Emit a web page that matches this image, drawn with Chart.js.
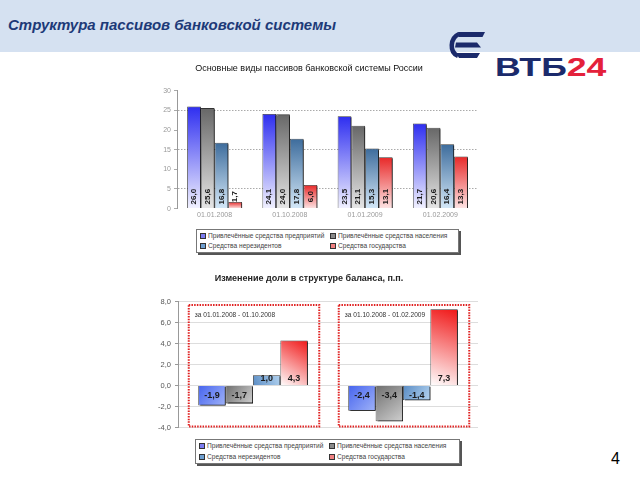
<!DOCTYPE html>
<html>
<head>
<meta charset="utf-8">
<script src="https://cdn.jsdelivr.net/npm/chart.js@4/dist/chart.umd.min.js"></script>
<style>
  body { margin: 0; width: 640px; height: 480px; position: relative; overflow: hidden; background: #fff;
         font-family: 'Liberation Sans', Arial, sans-serif; }
  .abs { position: absolute; }
  .legend { position: absolute; border: 1px solid #777; background: #fff; box-shadow: 2px 2px 0 #555;
            font-size: 6.6px; color: #444; }
  .legend span.item { position: absolute; white-space: nowrap; }
  .legend i { display: inline-block; width: 4px; height: 4px; border: 1px solid #333; margin-right: 2px; vertical-align: -1px; }
</style>
</head>
<body>
<div class="abs" style="left:0;top:0;width:640px;height:52px;background:#d5e1f1"></div>
<div class="abs" style="left:8px;top:16px;font:italic bold 15px 'Liberation Sans';color:#1d3a78">Структура пассивов банковской системы</div>

<svg class="abs" style="left:447px;top:31px" width="40" height="30" viewBox="0 0 40 30">
  <path d="M11 1 H38 L35.5 6 H12 Z M9 11.5 H30 L34 16.5 H8 Z M9 22 H33 L30 27 H12 Z" fill="#1b2a6b"/>
  <path d="M12 3 C3 7 2 21 11 25" stroke="#1b2a6b" stroke-width="4.5" fill="none"/>
</svg>
<div class="abs" style="left:495px;top:52px;font:bold 26px 'Liberation Sans';transform:scaleX(1.37);transform-origin:0 0;white-space:nowrap">
  <span style="color:#1b2a6b">ВТБ</span><span style="color:#e4213b">24</span>
</div>

<canvas id="c1" class="abs" style="left:140px;top:58px" width="345" height="168"></canvas>
<div id="leg1" class="legend" style="left:196px;top:229px;width:261px;height:22px"></div>

<canvas id="c2" class="abs" style="left:140px;top:268px" width="345" height="168"></canvas>
<div id="leg2" class="legend" style="left:195px;top:439px;width:263px;height:23px"></div>

<div class="abs" style="left:611px;top:450px;font:16px 'Liberation Sans';color:#000">4</div>

<script>
const FONT = "'Liberation Sans', Arial, sans-serif";

// data
const dates = ['01.01.2008', '01.10.2008', '01.01.2009', '01.02.2009'];
const seriesNames = [
  'Привлечённые средства предприятий',
  'Привлечённые средства населения',
  'Средства нерезидентов',
  'Средства государства'
];
const enterprises = [26.0, 24.1, 23.5, 21.7];
const households = [25.6, 24.0, 21.1, 20.6];
const nonresidents = [16.8, 17.8, 15.3, 16.4];
const government = [1.7, 6.0, 13.1, 13.3];
const topTicks = [0, 5, 10, 15, 20, 25, 30];

const periods = ['за 01.01.2008 - 01.10.2008', 'за 01.10.2008 - 01.02.2009'];
const chEnterprises = [-1.9, -2.4];
const chHouseholds = [-1.7, -3.4];
const chNonresidents = [1.0, -1.4];
const chGovernment = [4.3, 7.3];
const bottomTicks = [-4, -2, 0, 2, 4, 6, 8];

// colours
const topColors = [['#2e2ef0', '#f2f2ff'], ['#676767', '#e6e6e6'], ['#3d6c9c', '#d4e8f8'], ['#e82828', '#fde4e4']];
const bottomColors = [['#4664ee', '#9fb2f8'], ['#6e6e6e', '#cfcfcf'], ['#5a8cc4', '#b3d3f0'], ['#ffffff', '#f01616']];
const legendMarks = ['#7c7cf0', '#8a8a8a', '#6f9fd0', '#f08080'];

const fmt = v => v.toFixed(1).replace('.', ',');

function vGrad(top, bottom) {
  return ctx => {
    const ch = ctx.chart, y = ch.scales.y;
    if (!y || ctx.raw == null) return top;
    const y0 = y.getPixelForValue(0), y1 = y.getPixelForValue(ctx.raw);
    if (!isFinite(y0) || !isFinite(y1) || y0 === y1) return top;
    const g = ch.ctx.createLinearGradient(0, y0, 0, y1);
    g.addColorStop(0, bottom);
    g.addColorStop(1, top);
    return g;
  };
}

function dGrad(c0, c1) {
  return ctx => {
    const ch = ctx.chart, x = ch.scales.x, y = ch.scales.y;
    if (!x || !y || ctx.raw == null) return c1;
    const cat = x.width / ch.data.labels.length;
    const bw = cat * 0.73 / 4;
    const left = x.getPixelForValue(ctx.dataIndex) - 2 * bw + ctx.datasetIndex * bw;
    const y0 = y.getPixelForValue(0), y1 = y.getPixelForValue(ctx.raw);
    if (![left, y0, y1].every(isFinite)) return c1;
    const g = ch.ctx.createLinearGradient(left, y0, left + bw, y1);
    g.addColorStop(0, c0);
    g.addColorStop(1, c1);
    return g;
  };
}

const shadow = {
  id: 'shadow',
  beforeDatasetsDraw(chart) {
    const c = chart.ctx;
    c.save();
    c.shadowColor = 'rgba(0,0,0,0.85)';
    c.shadowOffsetX = 2;
    c.shadowOffsetY = 1;
    c.shadowBlur = 0;
  },
  afterDatasetsDraw(chart) { chart.ctx.restore(); }
};

const valueLabels = {
  id: 'valueLabels',
  afterDatasetsDraw(chart, args, opts) {
    const c = chart.ctx;
    const zero = chart.scales.y.getPixelForValue(0);
    c.save();
    c.fillStyle = '#1a1a1a';
    c.font = 'bold ' + opts.size + 'px ' + FONT;
    c.textAlign = 'center';
    c.textBaseline = 'middle';
    chart.data.datasets.forEach((ds, di) => {
      chart.getDatasetMeta(di).data.forEach((bar, i) => {
        const v = ds.data[i];
        if (opts.rotate) {
          c.save();
          c.translate(bar.x, zero - 12);
          c.rotate(-Math.PI / 2);
          c.fillText(fmt(v), 0, 0);
          c.restore();
        } else {
          c.fillText(fmt(v), bar.x, v >= 0 ? zero - 7 : zero + 10);
        }
      });
    });
    c.restore();
  }
};

const periodBoxes = {
  id: 'periodBoxes',
  beforeDatasetsDraw(chart) {
    const c = chart.ctx, x = chart.scales.x, y = chart.scales.y;
    const cat = x.width / chart.data.labels.length;
    c.save();
    chart.data.labels.forEach((lab, i) => {
      const cx = x.getPixelForValue(i) + 1;
      const l = cx - cat * 0.435, r = cx + cat * 0.435;
      const t = y.getPixelForValue(7.7), b = y.getPixelForValue(-3.9);
      c.strokeStyle = '#e02020';
      c.lineWidth = 2;
      c.setLineDash([1.5, 1.2]);
      c.strokeRect(l, t, r - l, b - t);
      c.setLineDash([]);
      c.fillStyle = '#333';
      c.font = '6.6px ' + FONT;
      c.textBaseline = 'middle';
      c.fillText(lab, l + 6, t + 10);
    });
    c.restore();
  }
};

function series(values, i, grad) {
  return {
    label: seriesNames[i],
    data: values,
    backgroundColor: grad,
    borderColor: '#333',
    borderWidth: 0.8,
    categoryPercentage: 0.73,
    barPercentage: 1
  };
}

new Chart(document.getElementById('c1'), {
  type: 'bar',
  data: {
    labels: dates,
    datasets: [enterprises, households, nonresidents, government].map((d, i) =>
      series(d, i, vGrad(topColors[i][0], topColors[i][1])))
  },
  options: {
    responsive: false,
    animation: false,
    devicePixelRatio: 1,
    layout: { padding: { left: 0, right: 7, top: 0, bottom: 5 } },
    plugins: {
      legend: { display: false },
      tooltip: { enabled: false },
      title: {
        display: true,
        text: 'Основные виды пассивов банковской системы России',
        color: '#111',
        font: { family: FONT, size: 9, weight: 'normal' },
        padding: { top: 5, bottom: 17 }
      },
      valueLabels: { rotate: true, size: 8 }
    },
    scales: {
      x: {
        grid: { display: false, drawTicks: false },
        border: { display: false },
        ticks: { color: '#999', font: { family: FONT, size: 7 }, padding: 2 }
      },
      y: {
        min: 0, max: 30,
        afterBuildTicks: s => { s.ticks = topTicks.map(v => ({ value: v })); },
        afterFit: s => { s.width = 37; },
        ticks: { color: '#999', font: { family: FONT, size: 7 }, padding: 3 },
        grid: {
          color: ctx => (ctx.tick && ctx.tick.value % 10 === 5) ? '#aaa' : 'rgba(0,0,0,0)',
          tickColor: '#aaa',
          tickLength: 3
        },
        border: { display: true, color: '#999', dash: [1.5, 1.5] }
      }
    }
  },
  plugins: [shadow, valueLabels]
});

new Chart(document.getElementById('c2'), {
  type: 'bar',
  data: {
    labels: periods,
    datasets: [chEnterprises, chHouseholds, chNonresidents, chGovernment].map((d, i) =>
      series(d, i, dGrad(bottomColors[i][0], bottomColors[i][1])))
  },
  options: {
    responsive: false,
    animation: false,
    devicePixelRatio: 1,
    layout: { padding: { left: 0, right: 7, top: 0, bottom: 2 } },
    plugins: {
      legend: { display: false },
      tooltip: { enabled: false },
      title: {
        display: true,
        text: 'Изменение доли в структуре баланса, п.п.',
        color: '#222',
        font: { family: FONT, size: 9, weight: 'bold' },
        padding: { top: 5, bottom: 18 }
      },
      valueLabels: { rotate: false, size: 9 }
    },
    scales: {
      x: {
        grid: { display: false, drawTicks: false },
        border: { display: false },
        ticks: { display: false }
      },
      y: {
        min: -4, max: 8,
        afterBuildTicks: s => { s.ticks = bottomTicks.map(v => ({ value: v })); },
        afterFit: s => { s.width = 38; },
        ticks: { color: '#555', font: { family: FONT, size: 7.5 }, padding: 4, callback: v => fmt(v) },
        grid: { color: '#ddd', tickColor: '#999', tickLength: 3 },
        border: { display: true, color: '#999' }
      }
    }
  },
  plugins: [periodBoxes, shadow, valueLabels]
});

// legends built from the series names
function buildLegend(id, rowTops) {
  const el = document.getElementById(id);
  const cols = [3, 133];
  seriesNames.forEach((name, i) => {
    const s = document.createElement('span');
    s.className = 'item';
    s.style.left = cols[i % 2] + 'px';
    s.style.top = rowTops[Math.floor(i / 2)] + 'px';
    s.innerHTML = '<i style="background:' + legendMarks[i] + '"></i>' + name;
    el.appendChild(s);
  });
}
buildLegend('leg1', [2, 12]);
buildLegend('leg2', [2, 13]);
</script>
</body>
</html>
